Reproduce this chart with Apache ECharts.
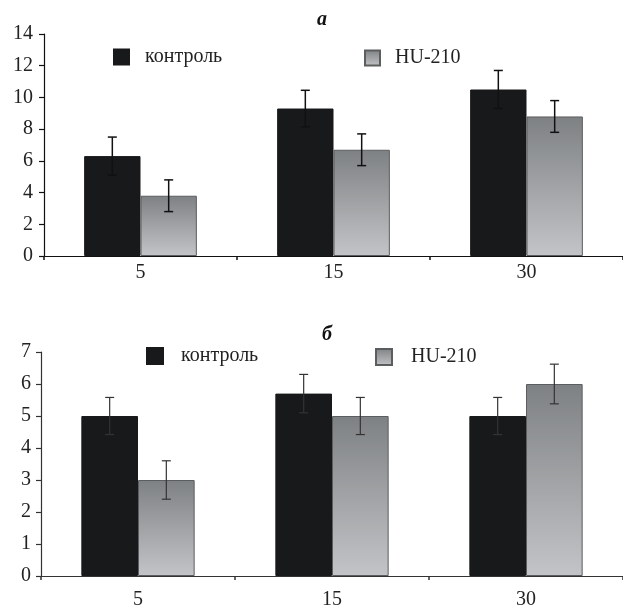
<!DOCTYPE html>
<html>
<head>
<meta charset="utf-8">
<script src="https://cdn.jsdelivr.net/npm/echarts@6/dist/echarts.min.js"></script>
<style>
html,body{margin:0;padding:0;background:#fff;}
#c{width:623px;height:610px;}
</style>
</head>
<body>
<div id="c"></div>
<script>
// ---- data ----
const categories = ['5', '15', '30'];
const seriesNames = ['контроль', 'HU-210'];
// panel а
const ctrlA = [6.3, 9.3, 10.5];
const ctrlErrA = [1.2, 1.15, 1.2];
const huA = [3.8, 6.7, 8.8];
const huErrA = [1.0, 1.0, 1.0];
// panel б
const ctrlB = [5.0, 5.7, 5.0];
const ctrlErrB = [0.58, 0.6, 0.58];
const huB = [3.0, 5.0, 6.0];
const huErrB = [0.6, 0.58, 0.62];
const yTicksA = {min: 0, max: 14, interval: 2};
const yTicksB = {min: 0, max: 7, interval: 1};

const FONT = '"Liberation Serif", "Times New Roman", "DejaVu Serif", serif';
const BAR_FRAC = 0.292;

const ctrlStyle = {color: '#18191b', borderColor: '#18191b', borderWidth: 1};
const huStyle = {
  color: {type: 'linear', x: 0, y: 0, x2: 0, y2: 1, colorStops: [
    {offset: 0, color: '#7e8183'}, {offset: 1, color: '#c3c4c7'}]},
  borderColor: '#5c5d5f', borderWidth: 1
};

function errData(vals, errs) {
  return categories.map((c, i) => [c, vals[i], errs[i]]);
}
function errSeries(grid, vals, errs, side, color, lw) {
  return {
    type: 'custom', xAxisIndex: grid, yAxisIndex: grid, z: 5, silent: true,
    encode: {x: 0, y: 1},
    data: errData(vals, errs),
    renderItem: function (params, api) {
      const idx = api.value(0), v = api.value(1), e = api.value(2);
      const band = api.size([1, 0])[0];
      const bw = band * BAR_FRAC;
      const top = api.coord([idx, v + e]);
      const bot = api.coord([idx, v - e]);
      const x = top[0] + side * bw / 2;
      const hw = 4.5;
      const st = {stroke: color, lineWidth: lw, fill: null};
      return {type: 'group', children: [
        {type: 'line', shape: {x1: x, y1: top[1], x2: x, y2: bot[1]}, style: st},
        {type: 'line', shape: {x1: x - hw, y1: top[1], x2: x + hw, y2: top[1]}, style: st},
        {type: 'line', shape: {x1: x - hw, y1: bot[1], x2: x + hw, y2: bot[1]}, style: st}
      ]};
    }
  };
}

function xAxis(grid, margin, col) {
  return {
    type: 'category', gridIndex: grid, data: categories, boundaryGap: true,
    axisLine: {show: true, lineStyle: {color: col, width: 1.2}},
    axisTick: {show: true, length: 4, lineStyle: {color: col, width: 1.5}},
    axisLabel: {fontFamily: FONT, fontSize: 20, color: '#222', margin: margin},
    splitLine: {show: false}
  };
}
function yAxis(grid, ticks, margin, col) {
  return {
    type: 'value', gridIndex: grid, min: ticks.min, max: ticks.max, interval: ticks.interval,
    axisLine: {show: true, lineStyle: {color: col, width: 1.2}},
    axisTick: {show: true, length: 5, lineStyle: {color: col, width: 1.2}},
    axisLabel: {fontFamily: FONT, fontSize: 20, color: '#222', margin: margin},
    splitLine: {show: false}
  };
}
function legend(name, left, top, size, gap) {
  return {
    data: [name], left: left, top: top, icon: 'rect', itemWidth: size, itemHeight: size,
    selectedMode: false, padding: 0,
    textStyle: {fontFamily: FONT, fontSize: 20, color: '#222', padding: [0, 0, 0, gap]}
  };
}

const option = {
  animation: false,
  backgroundColor: '#fff',
  title: [
    {text: 'а', left: 317, top: 10, padding: 0,
     textStyle: {fontFamily: FONT, fontSize: 20, fontStyle: 'italic', fontWeight: 'bold', color: '#111'}},
    {text: 'б', left: 322, top: 325, padding: 0,
     textStyle: {fontFamily: FONT, fontSize: 20, fontStyle: 'italic', fontWeight: 'bold', color: '#111'}}
  ],
  legend: [
    legend(seriesNames[0], 113, 47, 15, 11),
    legend(seriesNames[1], 364, 48, 15, 10),
    legend(seriesNames[0], 146, 346, 16, 13),
    legend(seriesNames[1], 375, 347, 16, 14)
  ],
  grid: [
    {left: 44, top: 34, width: 583, height: 222},
    {left: 41, top: 352, width: 587, height: 224}
  ],
  xAxis: [xAxis(0, 7, '#111'), xAxis(1, 14, '#333')],
  yAxis: [yAxis(0, yTicksA, 11, '#111'), yAxis(1, yTicksB, 10, '#333')],
  series: [
    {name: seriesNames[0], type: 'bar', xAxisIndex: 0, yAxisIndex: 0, data: ctrlA,
     barWidth: (BAR_FRAC * 100) + '%', barGap: '0%', itemStyle: ctrlStyle},
    {name: seriesNames[1], type: 'bar', xAxisIndex: 0, yAxisIndex: 0, data: huA,
     barWidth: (BAR_FRAC * 100) + '%', barGap: '0%', itemStyle: huStyle},
    {name: seriesNames[0], type: 'bar', xAxisIndex: 1, yAxisIndex: 1, data: ctrlB,
     barWidth: (BAR_FRAC * 100) + '%', barGap: '0%', itemStyle: ctrlStyle},
    {name: seriesNames[1], type: 'bar', xAxisIndex: 1, yAxisIndex: 1, data: huB,
     barWidth: (BAR_FRAC * 100) + '%', barGap: '0%', itemStyle: huStyle},
    errSeries(0, ctrlA, ctrlErrA, -1, '#111', 1.5),
    errSeries(0, huA, huErrA, 1, '#111', 1.5),
    errSeries(1, ctrlB, ctrlErrB, -1, '#333', 1.2),
    errSeries(1, huB, huErrB, 1, '#333', 1.2)
  ]
};
const chart = echarts.init(document.getElementById('c'), null, {renderer: 'canvas'});
chart.setOption(option);
</script>
</body>
</html>
